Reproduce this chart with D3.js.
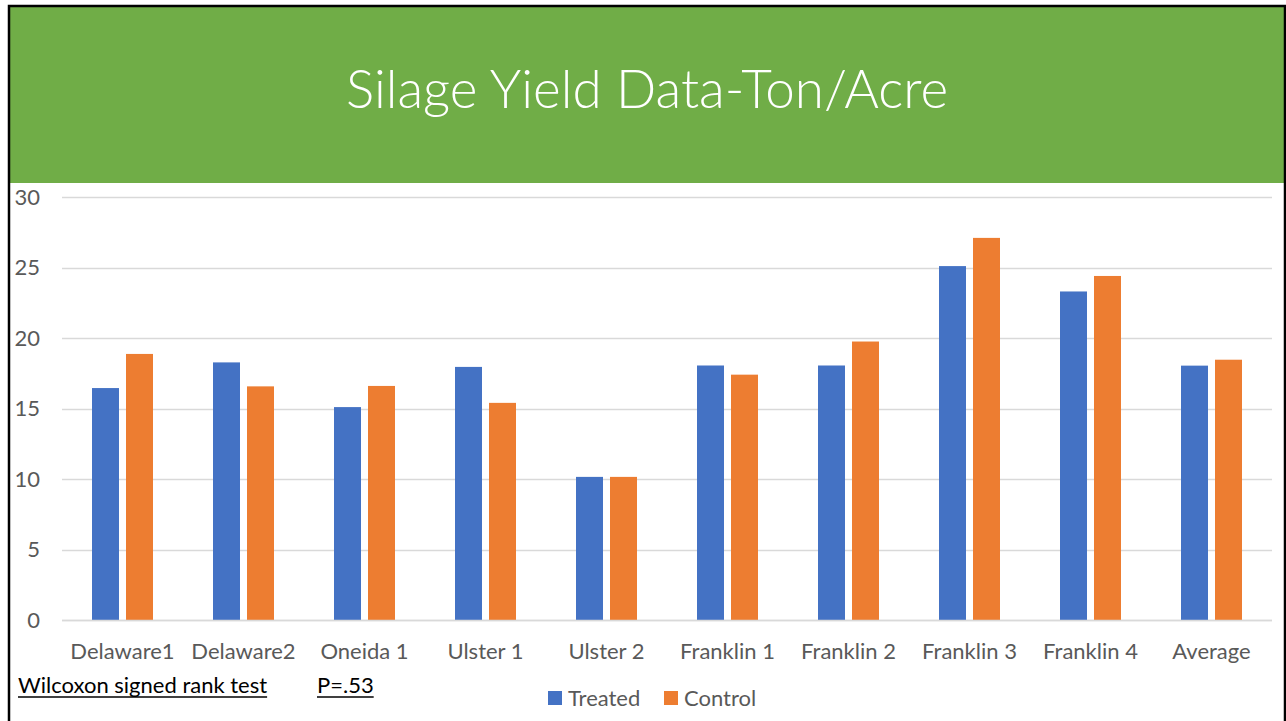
<!DOCTYPE html>
<html>
<head>
<meta charset="utf-8">
<script src="https://cdn.jsdelivr.net/npm/d3@7"></script>
<style>
  html, body { margin: 0; padding: 0; background: #fff; }
  svg { display: block; }
</style>
</head>
<body>
<svg id="chart" width="1286" height="721"></svg>
<script>
const categories = ["Delaware1", "Delaware2", "Oneida 1", "Ulster 1", "Ulster 2", "Franklin 1", "Franklin 2", "Franklin 3", "Franklin 4", "Average"];
const treated = [16.45, 18.27, 15.1, 17.95, 10.15, 18.05, 18.05, 25.1, 23.3, 18.04];
const control = [18.87, 16.57, 16.6, 15.4, 10.15, 17.4, 19.75, 27.1, 24.4, 18.46];
const seriesNames = ["Treated", "Control"];
const yTicks = [0, 5, 10, 15, 20, 25, 30];
const titleText = "Silage Yield Data-Ton/Acre";
const noteText = "Wilcoxon signed rank test";
const pText = "P=.53";

const colors = { Treated: "#4472C4", Control: "#ED7D31" };
const svg = d3.select("#chart");
const W = 1286, H = 721;

// frame and header
svg.append("rect").attr("x", 0).attr("y", 0).attr("width", W).attr("height", H).attr("fill", "#fff");
svg.append("rect").attr("x", 10).attr("y", 7).attr("width", 1274).attr("height", 176).attr("fill", "#70AD47");
svg.append("path")
  .attr("d", `M9,${H} L9,6 L1285,6 L1285,${H}`)
  .attr("fill", "none").attr("stroke", "#000").attr("stroke-width", 2.5);

svg.append("text")
  .attr("x", 647).attr("y", 108)
  .attr("text-anchor", "middle")
  .attr("font-family", "Lato, 'Open Sans', sans-serif")
  .attr("font-weight", 300)
  .attr("font-size", 53)
  .attr("fill", "#fff")
  .text(titleText);

const margin = { left: 62, right: 1272, top: 197, bottom: 620 };
const x0 = d3.scaleBand().domain(categories).range([margin.left, margin.right]).paddingInner(0).paddingOuter(0);
const y = d3.scaleLinear().domain([0, 30]).range([margin.bottom, margin.top]);
const barW = 27, gap = 7;
const x1 = d3.scaleOrdinal().domain(seriesNames).range([-(barW + gap / 2), gap / 2]);

// gridlines
const grid = svg.append("g");
grid.selectAll("line").data(yTicks).join("line")
  .attr("x1", margin.left).attr("x2", margin.right)
  .attr("y1", d => Math.round(y(d)) + 0.5).attr("y2", d => Math.round(y(d)) + 0.5)
  .attr("stroke", "#d9d9d9").attr("stroke-width", 1.3);

// y axis labels
const yAxis = d3.axisLeft(y).tickValues(yTicks).tickSize(0).tickPadding(0);
const ya = svg.append("g").attr("transform", "translate(40,0)").call(yAxis);
ya.select(".domain").remove();
ya.selectAll("text")
  .attr("font-family", "Lato, sans-serif").attr("font-size", 22).attr("fill", "#595959");

// bars
const data = categories.map((c, i) => ({ cat: c, vals: [{ s: "Treated", v: treated[i] }, { s: "Control", v: control[i] }] }));
const groups = svg.append("g").selectAll("g").data(data).join("g")
  .attr("transform", d => `translate(${x0(d.cat) + x0.bandwidth() / 2},0)`);
groups.selectAll("rect").data(d => d.vals).join("rect")
  .attr("x", d => x1(d.s))
  .attr("width", barW)
  .attr("y", d => y(d.v))
  .attr("height", d => y(0) - y(d.v))
  .attr("fill", d => colors[d.s]);

// x axis
const xAxis = d3.axisBottom(x0).tickSize(0).tickPadding(0);
const xa = svg.append("g").attr("transform", `translate(0,${margin.bottom})`).call(xAxis);
xa.select(".domain").remove();
xa.selectAll("text")
  .attr("dy", 0).attr("y", 39)
  .attr("font-family", "Lato, sans-serif").attr("font-size", 22).attr("fill", "#595959");
svg.append("line")
  .attr("x1", margin.left).attr("x2", margin.right)
  .attr("y1", Math.round(y(0)) + 0.5).attr("y2", Math.round(y(0)) + 0.5)
  .attr("stroke", "#d9d9d9").attr("stroke-width", 1.3);

// note
function underlined(txt, xPos, yPos) {
  const t = svg.append("text")
    .attr("x", xPos).attr("y", yPos)
    .attr("font-family", "Lato, sans-serif").attr("font-size", 22).attr("fill", "#000")
    .text(txt);
  const w = t.node().getComputedTextLength();
  svg.append("line").attr("x1", xPos).attr("x2", xPos + w)
    .attr("y1", yPos + 4).attr("y2", yPos + 4)
    .attr("stroke", "#000").attr("stroke-width", 1.5);
}
underlined(noteText, 18, 693);
underlined(pText, 317, 693);

// legend
const legend = svg.append("g");
const legX = [548, 664];
seriesNames.forEach((s, i) => {
  legend.append("rect").attr("x", legX[i]).attr("y", 691).attr("width", 14).attr("height", 14).attr("fill", colors[s]);
  legend.append("text").attr("x", legX[i] + 20).attr("y", 706)
    .attr("font-family", "Lato, sans-serif").attr("font-size", 22).attr("fill", "#595959")
    .text(s);
});
</script>
</body>
</html>
